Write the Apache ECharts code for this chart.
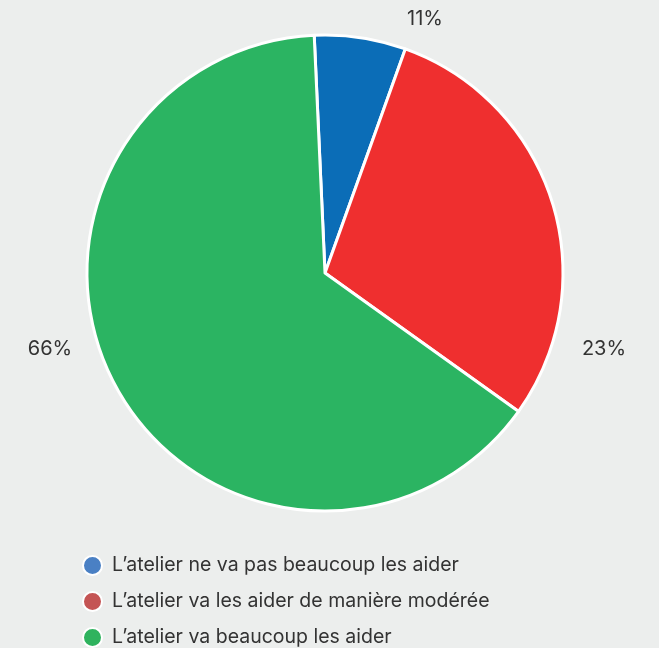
<!DOCTYPE html>
<html>
<head>
<meta charset="utf-8">
<script src="https://cdn.jsdelivr.net/npm/echarts@6/dist/echarts.min.js"></script>
<style>
html,body{margin:0;padding:0;background:#eceeed;}
#c{width:659px;height:648px;}
</style>
</head>
<body>
<div id="c"></div>
<script>
// Data
var categories = [
  "L’atelier ne va pas beaucoup les aider",
  "L’atelier va les aider de manière modérée",
  "L’atelier va beaucoup les aider"
];
var values = [6.2, 29.4, 64.4];
var labelTexts = ["11%", "23%", "66%"];

var sliceColors = ["#0b6db7", "#ef2f2f", "#2bb462"];
var legendColors = ["#4a80c4", "#c45454", "#2fb35e"];
var labelPos = [[425, 19], [604, 349], [50, 349]];

var chart = echarts.init(document.getElementById('c'), null, {renderer: 'canvas'});
chart.setOption({
  backgroundColor: '#eceeed',
  animation: false,
  legend: {
    orient: 'vertical',
    left: 82,
    top: 555,
    width: 500,
    height: 150,
    padding: 0,
    icon: 'circle',
    itemWidth: 19,
    itemHeight: 19,
    itemGap: 15,
    textStyle: {fontFamily: 'Inter', fontSize: 19.5, lineHeight: 19, color: '#333333', padding: [0, 0, 0, 5]},
    data: categories.map(function (n, i) {
      return {name: n, itemStyle: {color: legendColors[i]}};
    })
  },
  series: [{
    type: 'pie',
    center: [325, 273],
    radius: [0, 238],
    startAngle: 92.6,
    clockwise: true,
    itemStyle: {borderColor: '#ffffff', borderWidth: 3},
    label: {
      show: true,
      position: 'outside',
      fontFamily: 'Inter',
      fontSize: 20,
      color: '#333333',
      formatter: function (p) { return labelTexts[p.dataIndex]; }
    },
    labelLine: {show: false},
    labelLayout: function (p) {
      var q = labelPos[p.dataIndex];
      return {x: q[0], y: q[1], align: 'center', verticalAlign: 'middle'};
    },
    emphasis: {disabled: true},
    data: categories.map(function (n, i) {
      return {name: n, value: values[i], itemStyle: {color: sliceColors[i]}};
    })
  }]
});
</script>
</body>
</html>
